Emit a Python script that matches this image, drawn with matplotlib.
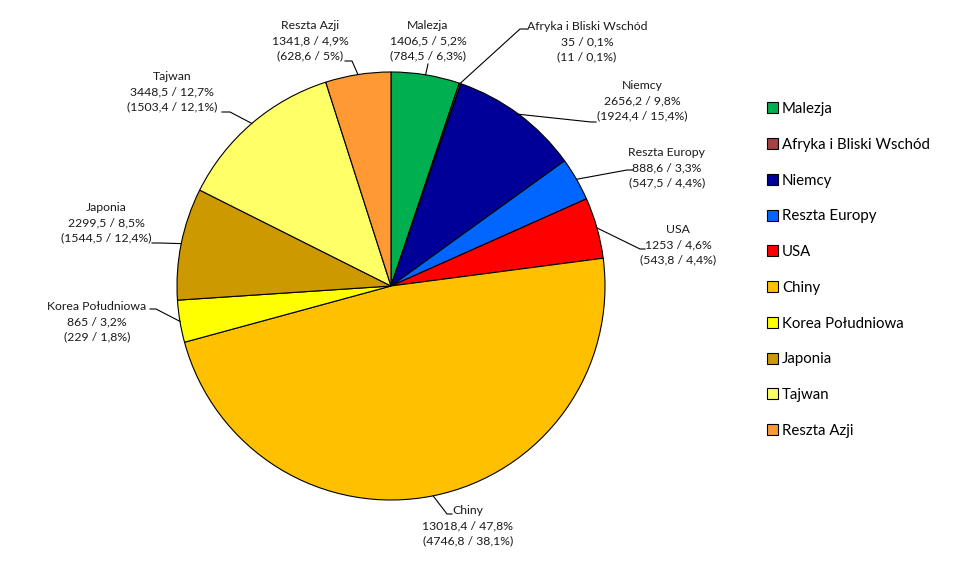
import matplotlib
matplotlib.use("Agg")
import matplotlib.pyplot as plt
import numpy as np

plt.rcParams['font.family'] = ['Lato', 'DejaVu Sans']

categories = ["Malezja", "Afryka i Bliski Wschód", "Niemcy", "Reszta Europy", "USA",
              "Chiny", "Korea Południowa", "Japonia", "Tajwan", "Reszta Azji"]
values = [1406.5, 35, 2656.2, 888.6, 1253, 13018.4, 865, 2299.5, 3448.5, 1341.8]
pct1 = [5.2, 0.1, 9.8, 3.3, 4.6, 47.8, 3.2, 8.5, 12.7, 4.9]
values2 = [784.5, 11, 1924.4, 547.5, 543.8, 4746.8, 229, 1544.5, 1503.4, 628.6]
pct2 = [6.3, 0.1, 15.4, 4.4, 4.4, 38.1, 1.8, 12.4, 12.1, 5]
colors = ["#00B050", "#A5433F", "#000099", "#0066FF", "#FF0000",
          "#FFC000", "#FFFF00", "#CC9900", "#FFFF66", "#FF9933"]

def fmt(v):
    return f"{v:g}".replace('.', ',')

W, H = 962, 561
fig = plt.figure(figsize=(W / 100, H / 100), dpi=100)
cx, cy, R = 391, 286, 214
ax = fig.add_axes([(cx - R) / W, (H - cy - R) / H, 2 * R / W, 2 * R / H])
wedges, _ = ax.pie(values, colors=colors, startangle=90, counterclock=False, radius=1,
                   wedgeprops=dict(edgecolor='black', linewidth=0.8))
ax.set_xlim(-1, 1)
ax.set_ylim(-1, 1)
ax.set_aspect('equal')
ax.axis('off')

def px2d(px, py):
    return ((px - cx) / R, (cy - py) / R)

# label layout: text center (px), leader end near text, elbow
layout = [
    ((428, 41), (428, 64), (428, 64)),
    ((587, 42), (527, 29), (520, 29)),
    ((642, 101), (596, 122), (591, 122)),
    ((667, 168), (633, 170), (627, 170)),
    ((678, 245), (645, 249), (640, 249)),
    ((468, 526), (452, 514), (447, 514)),
    ((97, 322), (150, 309), (156, 309)),
    ((106, 223), (152, 243), (160, 243)),
    ((172, 92), (222, 112), (230, 112)),
    ((310, 41), (345, 61), (352, 61)),
]

for i, w in enumerate(wedges):
    ang = np.deg2rad((w.theta1 + w.theta2) / 2)
    ax_x, ax_y = np.cos(ang), np.sin(ang)
    (tx, ty), end, elbow = layout[i]
    txt = f"{categories[i]}\n{fmt(values[i])} / {fmt(pct1[i])}%\n({fmt(values2[i])} / {fmt(pct2[i])}%)"
    x, y = px2d(tx, ty)
    ax.text(x, y, txt, ha='center', va='center', fontsize=8.8, linespacing=1.45,
            color='#1a1a1a', clip_on=False)
    ex, ey = px2d(*end)
    bx, by = px2d(*elbow)
    ax.plot([ax_x, bx, ex], [ax_y, by, ey], color='black', linewidth=0.8, clip_on=False)

leg = fig.legend(wedges, categories, loc='upper left',
                 bbox_to_anchor=(767 / W, 1 - 102 / H), frameon=False,
                 fontsize=10.8, labelspacing=1.45, handlelength=0.75, handleheight=0.75,
                 handletextpad=0.25, borderpad=0, borderaxespad=0)
for h in leg.legend_handles:
    h.set_edgecolor('black')
    h.set_linewidth(0.8)

fig.savefig("out.png", dpi=100)
